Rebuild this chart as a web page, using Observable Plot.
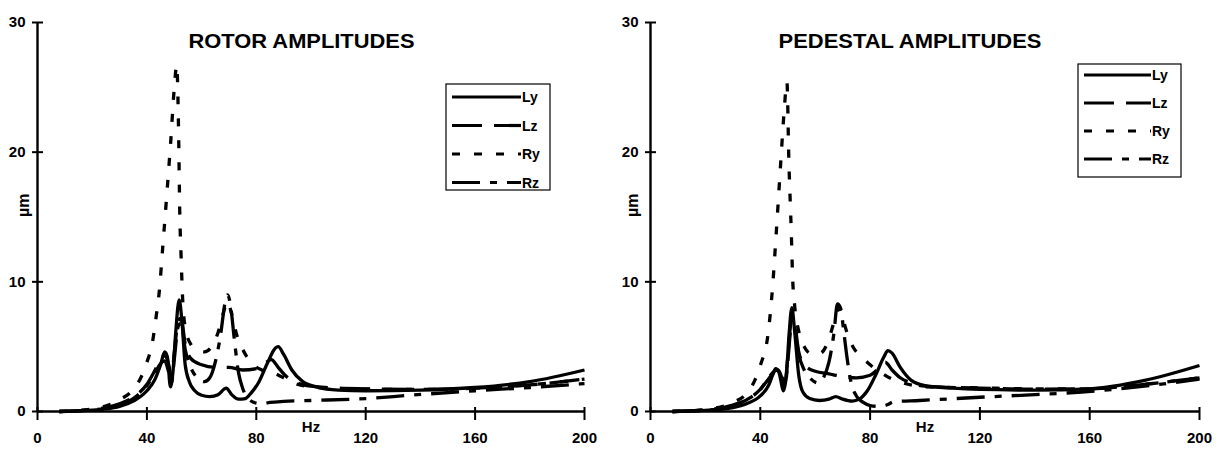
<!DOCTYPE html>
<html>
<head>
<meta charset="utf-8">
<script src="https://cdn.jsdelivr.net/npm/d3@7"></script>
<script src="https://cdn.jsdelivr.net/npm/@observablehq/plot@0.6"></script>
<style>
  html, body { margin: 0; padding: 0; background: #fff; }
  #wrap { display: flex; width: 1223px; height: 449px; }
</style>
</head>
<body>
<div id="wrap"><div id="left"></div><div id="right"></div></div>
<script>
// ---------- data ----------
const seriesNames = ["Ly", "Lz", "Ry", "Rz"];
const xTicks = [0, 40, 80, 120, 160, 200];
const yTicks = [0, 10, 20, 30];
const titles = ["ROTOR AMPLITUDES", "PEDESTAL AMPLITUDES"];
const xUnit = "Hz";
const yUnit = "\u00b5m";

// Rotor amplitudes [Hz, µm]
const rotorLy = [[8,0],[15,0.05],[20,0.1],[25,0.2],[30,0.4],[35,0.8],[40,1.6],[43,2.5],[45,3.6],[46.5,4.6],[47.5,4.2],[48.6,1.9],[49.5,3.0],[50.5,6.0],[51.8,8.6],[52.8,7.0],[54,3.6],[55.5,2.3],[57.5,1.6],[60,1.25],[63,1.15],[66,1.3],[69,1.8],[71,1.3],[73.5,0.95],[76,1.0],[78,1.4],[81,2.3],[84,3.7],[87,4.9],[88,5.0],[90,4.4],[93,3.2],[97,2.3],[102,1.9],[110,1.65],[120,1.6],[140,1.65],[160,1.85],[180,2.3],[200,3.2]];
const rotorLz = [[8,0],[20,0.15],[30,0.6],[35,1.1],[40,2.1],[43,3.2],[45,4.0],[46.5,4.3],[48,3.6],[49,2.6],[50,4.5],[51.5,7.0],[52.5,7.2],[54,5.2],[56,4.1],[60,3.6],[65,3.4],[70,3.4],[75,3.2],[80,3.3],[83,3.7],[85.5,4.0],[88,3.4],[91,2.7],[95,2.2],[100,1.95],[110,1.8],[120,1.75],[140,1.7],[160,1.8],[180,2.05],[200,2.5]];
const rotorRy = [[8,0],[20,0.2],[30,0.9],[35,1.7],[38,2.7],[40,3.8],[42,5.3],[43.5,7.5],[44.5,9.2],[45.8,12.7],[47.3,16.8],[48.7,20.8],[50.1,25.2],[50.9,26.7],[51.6,21.4],[52,15.5],[52.5,12],[53,9],[54,6.5],[56,5.2],[58,4.8],[61,4.6],[64,5.1],[66.5,6.4],[68.5,8.0],[69.5,8.5],[71,7.5],[73,5.8],[75.5,4.6],[78,3.8],[82,3.2],[86,3.0],[90,2.6],[95,2.1],[100,1.9],[110,1.75],[120,1.72],[140,1.7],[160,1.8],[180,2.05],[200,2.5]];
const rotorRz = [[8,0],[20,0.12],[30,0.5],[35,1.0],[40,2.0],[43,3.0],[45,3.7],[46.5,3.9],[48,3.0],[49,2.2],[50,4.0],[51.5,6.6],[52.5,6.8],[54,4.8],[56,3.4],[58.5,2.6],[61,2.3],[63,2.6],[65,3.8],[67,6.0],[68.5,8.3],[69.5,9.0],[70.5,8.3],[72,5.5],[73.5,3.0],[75,1.8],[77,1.0],[80,0.65],[82,0.6],[85,0.7],[90,0.78],[100,0.85],[120,1.0],[136,1.25],[160,1.6],[180,1.85],[200,2.15]];

// Pedestal amplitudes [Hz, µm]
const pedLy = [[8,0],[20,0.08],[30,0.3],[35,0.6],[40,1.2],[43,2.0],[44.5,2.8],[45.6,3.3],[46.8,3.0],[48.5,1.6],[49.5,2.8],[50.5,6.0],[51.5,8.0],[52.5,6.2],[54,2.8],[55.5,1.5],[58,1.0],[61.5,0.85],[65,0.95],[67.5,1.15],[70,0.95],[73.5,0.8],[76,0.95],[79,1.6],[82,2.8],[85,4.2],[86.5,4.7],[88,4.5],[91,3.4],[95,2.4],[100,2.0],[110,1.8],[120,1.7],[140,1.65],[160,1.75],[180,2.4],[200,3.55]];
const pedLz = [[8,0],[20,0.12],[30,0.5],[35,0.9],[40,1.7],[43,2.5],[45,3.0],[46.5,3.1],[48,2.6],[49,2.2],[50,4.2],[51.5,7.2],[52.5,6.8],[54,4.6],[56,3.6],[60,3.1],[65,2.9],[70,2.7],[75,2.6],[80,2.8],[83.5,3.4],[85.5,3.8],[88,3.2],[91,2.6],[95,2.2],[100,1.95],[110,1.85],[120,1.8],[140,1.72],[160,1.75],[180,2.1],[200,2.6]];
const pedRy = [[8,0],[20,0.15],[30,0.7],[35,1.4],[38,2.4],[40.1,3.6],[42.9,6.1],[44.4,9.4],[45.8,13.75],[47.5,19.4],[48.7,23.2],[49.7,25.4],[50.4,19.4],[51.3,13.75],[51.8,10.2],[52.5,8.2],[54,6.2],[56,5.0],[59,4.4],[62,4.5],[64.5,5.3],[67,7.0],[68.5,8.0],[70,7.2],[72,5.8],[74,4.9],[77,4.2],[80,3.6],[84,3.0],[88,2.5],[92,2.2],[96,2.0],[100,1.9],[120,1.82],[140,1.75],[160,1.75],[180,2.1],[200,2.6]];
const pedRz = [[8,0],[20,0.1],[30,0.45],[35,0.9],[40,1.7],[43,2.6],[45,3.1],[46.5,3.2],[48,2.5],[49,1.9],[50,3.8],[51.3,6.5],[52.3,6.6],[54,4.4],[56,3.2],[58.5,2.5],[61,2.2],[63,2.6],[65,3.8],[66.8,6.0],[68.1,8.3],[69.2,8.0],[70.5,6.0],[71.5,4.3],[73,2.3],[75,1.2],[77.5,0.7],[80,0.46],[83,0.4],[86,0.5],[88.8,0.76],[98,0.85],[120,1.1],[140,1.3],[157,1.5],[180,1.95],[200,2.5]];

// ---------- styles ----------
const dashes = [null, "30,12", "8,14", "28,10,7,10"];
const widths = [3.3, 3.3, 3.3, 3.3];
const FONT = "'Liberation Sans', Arial, Helvetica, sans-serif";

function panel(el, cfg) {
  const marks = [];
  cfg.series.forEach((s, i) => {
    marks.push(Plot.line(s, {
      x: d => d[0], y: d => d[1], curve: "monotone-x",
      stroke: "black", strokeWidth: widths[i],
      strokeDasharray: dashes[i], strokeLinecap: "butt", strokeLinejoin: "round"
    }));
  });
  marks.push(
    Plot.ruleX([0], {stroke: "black", strokeWidth: 2.4}),
    Plot.ruleY([0], {stroke: "black", strokeWidth: 2.4}),
    Plot.axisY({ticks: yTicks, tickSize: 11, dx: 6, text: null, stroke: "black", strokeWidth: 2, label: null}),
    Plot.axisY({ticks: yTicks, tickSize: 0, tickPadding: 12, label: null, fontSize: 15, fontWeight: "bold"}),
    Plot.axisX({ticks: xTicks, tickSize: 13, dy: -4, text: null, stroke: "black", strokeWidth: 2, label: null}),
    Plot.axisX({ticks: xTicks, tickSize: 0, tickPadding: 21, label: null, fontSize: 15, fontWeight: "bold"}),
    Plot.text([xUnit], {x: 100, frameAnchor: "bottom", dy: 20, text: d => d, fontSize: 15, fontWeight: "bold"}),
    Plot.text([yUnit], {y: 15, frameAnchor: "left", dx: cfg.unitDx, rotate: -90, text: d => d, fontSize: 16, fontWeight: "bold"}),
    Plot.text([cfg.title], {frameAnchor: "top-left", dx: cfg.titleDx, dy: 11, textAnchor: "start", text: d => d, fontSize: 21, fontWeight: "bold"})
  );
  const svg = Plot.plot({
    width: cfg.width, height: 449,
    marginLeft: cfg.ml, marginRight: cfg.mr, marginTop: 22, marginBottom: 38,
    x: {domain: [0, 200]},
    y: {domain: [0, 30]},
    style: {fontFamily: FONT, color: "black", background: "white"},
    marks
  });
  d3.select(svg).selectAll("text").filter(function() { return this.textContent === cfg.title; })
    .attr("textLength", cfg.titleW).attr("lengthAdjust", "spacingAndGlyphs");
  const L = cfg.legend;
  const g = d3.select(svg).append("g").attr("text-anchor", "start");
  g.append("rect").attr("x", L.x).attr("y", L.y).attr("width", L.w).attr("height", L.h)
    .attr("fill", "white").attr("stroke", "black").attr("stroke-width", 1.2);
  seriesNames.forEach((name, i) => {
    const yy = L.y + L.row0 + i * L.dy;
    g.append("line").attr("x1", L.x + 6).attr("x2", L.lx2).attr("y1", yy).attr("y2", yy)
      .attr("stroke", "black").attr("stroke-width", 3.2)
      .attr("stroke-dasharray", dashes[i]);
    g.append("text").attr("x", L.lx2 + 1).attr("y", yy).attr("dy", "0.36em")
      .attr("font-family", FONT).attr("font-size", 14).attr("font-weight", "bold").text(name);
  });
  el.appendChild(svg);
  return svg;
}

panel(document.getElementById("left"), {
  width: 611, ml: 37, mr: 27, unitDx: -14,
  title: titles[0], titleDx: 151, titleW: 226,
  series: [rotorLy, rotorLz, rotorRy, rotorRz],
  legend: {x: 446, y: 84, w: 104, h: 106, row0: 13, dy: 28.5, lx2: 521}
});
panel(document.getElementById("right"), {
  width: 612, ml: 39, mr: 24, unitDx: -18,
  title: titles[1], titleDx: 128, titleW: 263,
  series: [pedLy, pedLz, pedRy, pedRz],
  legend: {x: 467, y: 64, w: 103, h: 113, row0: 11, dy: 28, lx2: 540}
});
</script>
</body>
</html>
